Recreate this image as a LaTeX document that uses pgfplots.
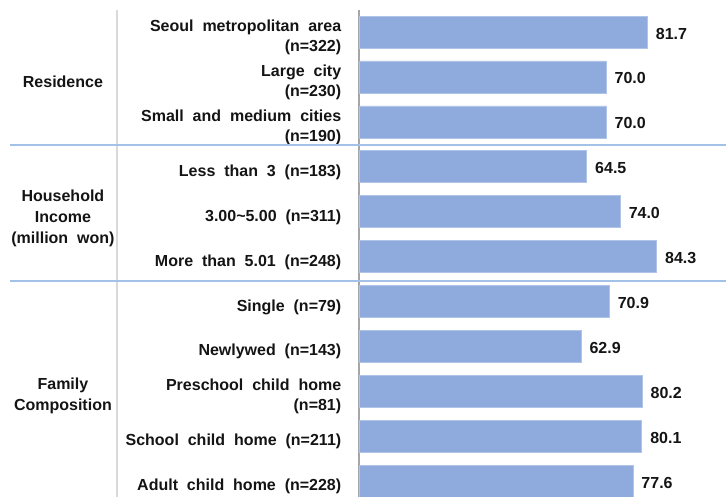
\documentclass[border=0pt]{standalone}
\usepackage{pgfplots}
\pgfplotsset{compat=1.18}
\usepackage{fontspec}
\setmainfont[WordSpace=2.0]{Liberation Sans}
\definecolor{barblue}{RGB}{143,170,220}
\definecolor{baredge}{RGB}{176,196,232}
\definecolor{seplb}{RGB}{164,194,232}
\definecolor{lgray}{RGB}{217,217,217}
\definecolor{dgray}{RGB}{166,166,166}
\definecolor{txt}{RGB}{20,20,20}
\newcommand{\lf}{\fontsize{16bp}{20bp}\selectfont\bfseries}
\newcommand{\gf}{\fontsize{16bp}{21bp}\selectfont\bfseries}
\begin{document}
\begin{tikzpicture}
\path[use as bounding box] (0,0) rectangle (726bp,497bp);
\begin{axis}[
  at={(359bp,0bp)}, anchor=south west,
  scale only axis, width=367bp, height=497bp,
  xmin=0, xmax=104,
  ymin=-0.7127, ymax=10.356,
  y dir=reverse,
  xbar, bar width=32bp,
  clip=false,
  axis line style={draw=none},
  tick style={draw=none},
  xtick=\empty,
  ytick={0,1,2,3,4,5,6,7,8,9,10},
  yticklabels={
    {Seoul metropolitan area\\(n=322)},
    {Large city\\(n=230)},
    {Small and medium cities\\(n=190)},
    {Less than 3 (n=183)},
    {3.00\textasciitilde 5.00 (n=311)},
    {More than 5.01 (n=248)},
    {Single (n=79)},
    {Newlywed (n=143)},
    {Preschool child home\\(n=81)},
    {School child home (n=211)},
    {Adult child home (n=228)}},
  yticklabel style={align=right, font=\lf, text=txt, anchor=east, xshift=-10bp, yshift=-5.5bp},
  nodes near coords,
  nodes near coords style={font=\lf, text=txt, anchor=west, xshift=5bp, yshift=-1.5bp},
  point meta=explicit symbolic,
]
\draw[lgray, line width=1.5bp] (axis cs:-68.57,-0.49) -- (axis cs:-68.57,10.356);
\draw[dgray, line width=1.2bp] (axis cs:0,-0.49) -- (axis cs:0,10.356);
\draw[seplb, line width=1.2bp] (axis cs:-98.9,2.517) -- (axis cs:104,2.517);
\draw[seplb, line width=1.2bp] (axis cs:-98.9,5.546) -- (axis cs:104,5.546);
\addplot[fill=barblue, draw=baredge, line width=0.6bp] coordinates {
  (81.7,0) [81.7]
  (70.0,1) [70.0]
  (70.0,2) [70.0]
  (64.5,3) [64.5]
  (74.0,4) [74.0]
  (84.3,5) [84.3]
  (70.9,6) [70.9]
  (62.9,7) [62.9]
  (80.2,8) [80.2]
  (80.1,9) [80.1]
  (77.6,10) [77.6]
};
\node[font=\gf, text=txt, align=center] at (axis cs:-83.9,1.11) {Residence};
\node[font=\gf, text=txt, align=center] at (axis cs:-83.9,4.15) {Household\\Income\\(million won)};
\node[font=\gf, text=txt, align=center] at (axis cs:-83.9,8.10) {Family\\Composition};
\end{axis}
\end{tikzpicture}
\end{document}
